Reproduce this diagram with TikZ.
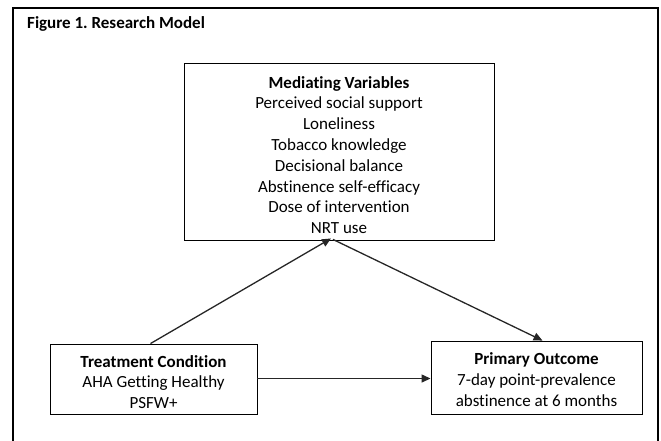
\documentclass[tikz,border=0pt]{standalone}
\usepackage{fontspec}
\setmainfont{Carlito}[Ligatures=NoCommon]
\frenchspacing
\usetikzlibrary{arrows.meta,calc}
\tikzset{
  box/.style={draw=black, line width=0.9pt, inner sep=0pt},
  txt/.style={align=center, inner sep=0pt, font=\fontsize{17}{20.8}\selectfont},
  arr/.style={draw=black!85, line width=1.3pt, -{Triangle[length=9pt,width=8pt]}},
  frame/.style={draw=black, line width=1.4pt}
}
\begin{document}
\begin{tikzpicture}[x=1pt,y=-1pt]
\useasboundingbox (0,0) rectangle (661,440);
\draw[frame] (13,441) -- (13,8) -- (658,8) -- (658,441);
\node[anchor=west, inner sep=0pt, font=\fontsize{17}{20}\selectfont\bfseries] (title) at (27,24) {Figure 1. Research Model};
\node[box, minimum width=310, minimum height=177] (med) at (339,151.5) {};
\node[box, minimum width=207, minimum height=70] (treat) at (153.5,379) {};
\node[box, minimum width=211, minimum height=73] (out) at (536.5,377.5) {};
\node[txt] (medtxt) at (339,155)
  {\textbf{Mediating Variables}\\Perceived social support\\Loneliness\\Tobacco knowledge\\Decisional balance\\Abstinence self-efficacy\\Dose of intervention\\NRT use};
\node[txt] (treattxt) at (153.5,382)
  {\textbf{Treatment Condition}\\AHA Getting Healthy\\PSFW+};
\node[txt] (outtxt) at (536.5,379.5)
  {\textbf{Primary Outcome}\\7-day point-prevalence\\abstinence at 6 months};
\draw[arr] ([xshift=-3]treat.north) -- ([xshift=-8,yshift=2]med.south);
\draw[arr] ([xshift=-6,yshift=1]med.south) -- ([xshift=6]out.north);
\draw[arr] ([yshift=0.5]treat.east) -- ([yshift=0.5]treat.east -| out.west);
\end{tikzpicture}
\end{document}
